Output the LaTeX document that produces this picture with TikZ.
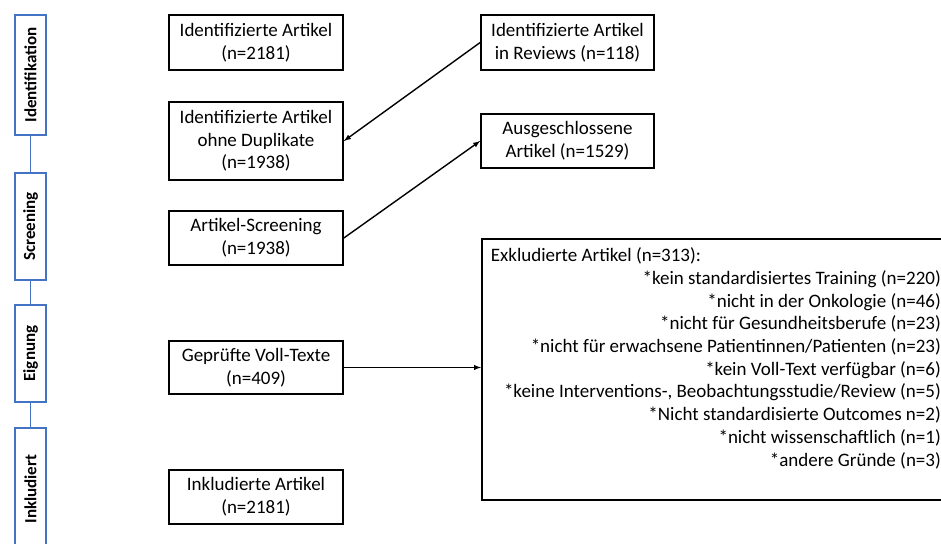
\documentclass[tikz,border=0pt]{standalone}
\usepackage{fontspec}
\setmainfont{Carlito}
\usetikzlibrary{shapes,arrows,positioning}
\definecolor{phaseblue}{RGB}{68,114,196}

\begin{document}
\begin{tikzpicture}[x=1pt, y=-1pt, thick]
  \tikzstyle{stage} = [rectangle, draw, line width=1.7pt, minimum width=174pt, align=center, font=\fontsize{19}{22.7}\selectfont, inner sep=3pt]
  \tikzstyle{phase} = [rectangle, draw=phaseblue, line width=1.8pt, fill=white, minimum height=31pt, rotate=90, font=\bfseries\fontsize{17}{19}\selectfont]
  \tikzstyle{exclbox} = [rectangle, draw, line width=1.7pt, anchor=north west, inner xsep=9pt, inner ysep=9pt, font=\fontsize{19}{22.7}\selectfont]
  \tikzstyle{flow} = [-latex, line width=1.4pt]
  \useasboundingbox (0,0) rectangle (941,543);

  % phases
  \node[phase, minimum width=120pt] (pid) at (30.5, 75) {Identifikation};
  \node[phase, minimum width=107pt] (pscr) at (30.5, 226.5) {Screening};
  \node[phase, minimum width=97pt] (pelig) at (30.5, 353.5) {Eignung};
  \node[phase, minimum width=122pt] (pincl) at (30.5, 489) {Inkludiert};
  \draw[phaseblue, line width=1.8pt] (pid) -- (pscr);
  \draw[phaseblue, line width=1.8pt] (pscr) -- (pelig);
  \draw[phaseblue, line width=1.8pt] (pelig) -- (pincl);

  % left column
  \node[stage, minimum height=55pt] (ident) at (256, 42.5) {Identifizierte Artikel\\(n=2181)};
  \node[stage, minimum height=78pt] (dedup) at (256, 141) {Identifizierte Artikel\\ohne Duplikate\\(n=1938)};
  \node[stage, minimum height=54pt] (screen) at (256, 238) {Artikel-Screening\\(n=1938)};
  \node[stage, minimum height=53pt] (full) at (256, 367.5) {Geprüfte Voll-Texte\\(n=409)};
  \node[stage, minimum height=54pt] (incl) at (256, 497) {Inkludierte Artikel\\(n=2181)};

  % right column
  \node[stage, minimum width=173pt, minimum height=55pt] (rev) at (567.5, 42.5) {Identifizierte Artikel\\in Reviews (n=118)};
  \node[stage, minimum width=173pt, minimum height=54pt] (ausg) at (567.5, 141) {Ausgeschlossene\\Artikel (n=1529)};
  \node[exclbox] (excl) at (481, 238) {\parbox[c][243pt][t]{450pt}{\raggedleft
    \makebox[\linewidth][l]{Exkludierte Artikel (n=313):}\\
    {*}kein standardisiertes Training (n=220)\\
    {*}nicht in der Onkologie (n=46)\\
    {*}nicht für Gesundheitsberufe (n=23)\\
    {*}nicht für erwachsene Patientinnen/Patienten (n=23)\\
    {*}kein Voll-Text verfügbar (n=6)\\
    {*}keine Interventions-, Beobachtungsstudie/Review (n=5)\\
    {*}Nicht standardisierte Outcomes n=2)\\
    {*}nicht wissenschaftlich (n=1)\\
    {*}andere Gründe (n=3)}};

  \draw[flow] (rev.west) -- (dedup.east);
  \draw[flow] (screen.east) -- (ausg.west);
  \draw[flow] (full.east) -- (full.east -| excl.west);
\end{tikzpicture}
\end{document}
